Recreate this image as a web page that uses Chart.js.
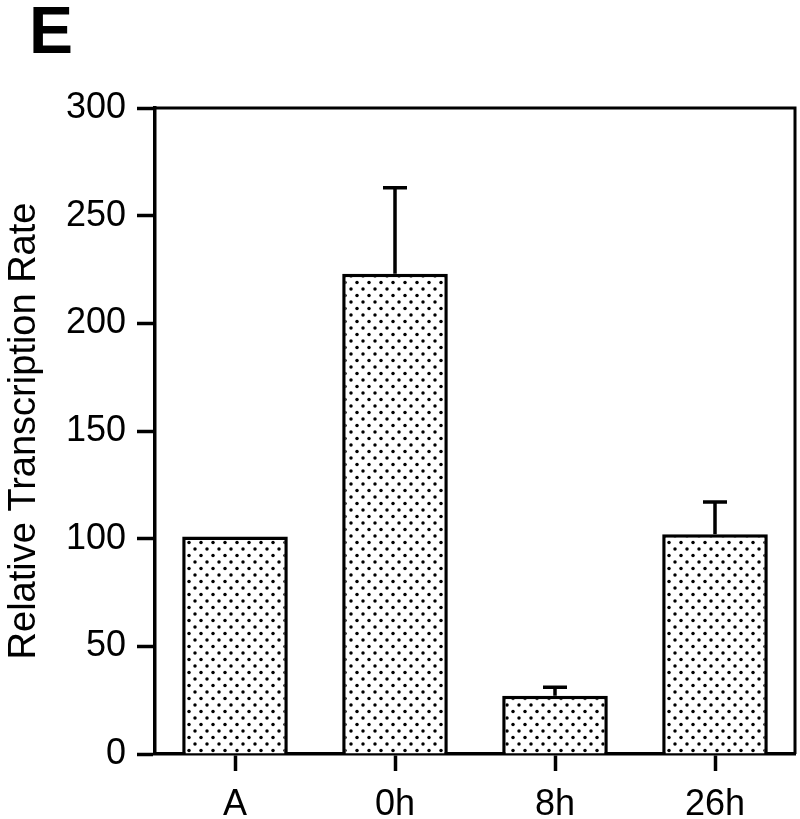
<!DOCTYPE html>
<html>
<head>
<meta charset="utf-8">
<script src="https://cdn.jsdelivr.net/npm/chart.js@4"></script>
<style>
  html, body { margin: 0; padding: 0; background: #fff; }
  #wrap { width: 800px; height: 819px; }
</style>
</head>
<body>
<div id="wrap"><canvas id="chart" width="800" height="819"></canvas></div>
<script>
const labels = ['A', '0h', '8h', '26h'];
const rates = [101, 223, 27, 102];
const errTops = [101, 263, 31, 117];
const yTicks = [0, 50, 100, 150, 200, 250, 300];

// dotted fill like the printed figure
function dotPattern() {
    const c = document.createElement('canvas');
    c.width = 12;
    c.height = 13;
    const g = c.getContext('2d');
    g.fillStyle = '#fff';
    g.fillRect(0, 0, 12, 13);
    g.fillStyle = '#000';
    [[3, 3], [9, 9.5]].forEach(p => {
        g.beginPath();
        g.arc(p[0], p[1], 1.75, 0, Math.PI * 2);
        g.fill();
    });
    return g.createPattern(c, 'repeat');
}

const frameAndErrors = {
    id: 'frameAndErrors',
    beforeDatasetsDraw(chart) {
        const { ctx, chartArea: a } = chart;
        ctx.save();
        ctx.strokeStyle = '#000';
        ctx.lineWidth = 3;
        ctx.beginPath();
        ctx.moveTo(a.left, a.top);
        ctx.lineTo(a.right, a.top);
        ctx.lineTo(a.right, a.bottom);
        ctx.stroke();
        ctx.restore();
    },
    afterDatasetsDraw(chart) {
        const { ctx, scales } = chart;
        const x = scales.x, y = scales.y;
        ctx.save();
        ctx.strokeStyle = '#000';
        ctx.lineWidth = 3.5;
        errTops.forEach((top, i) => {
            if (top <= rates[i]) return;
            const cx = x.getPixelForValue(i);
            const y0 = y.getPixelForValue(rates[i]);
            const y1 = y.getPixelForValue(top);
            ctx.beginPath();
            ctx.moveTo(cx, y0);
            ctx.lineTo(cx, y1);
            ctx.moveTo(cx - 12, y1);
            ctx.lineTo(cx + 12, y1);
            ctx.stroke();
        });
        ctx.restore();
    },
    afterDraw(chart) {
        const ctx = chart.ctx;
        ctx.save();
        ctx.fillStyle = '#000';
        ctx.font = 'bold 66px "Liberation Sans", Arial, sans-serif';
        ctx.textBaseline = 'alphabetic';
        ctx.fillText('E', 29, 53);
        ctx.restore();
    }
};

const ctx = document.getElementById('chart');

new Chart(ctx, {
    type: 'bar',
    data: {
        labels: labels,
        datasets: [{
            data: rates,
            backgroundColor: dotPattern(),
            borderColor: '#000',
            borderWidth: 3.5,
            borderSkipped: 'bottom',
            barPercentage: 0.66,
            categoryPercentage: 1
        }]
    },
    options: {
        responsive: false,
        animation: false,
        layout: { padding: { top: 108, right: 5, left: 0, bottom: 0 } },
        plugins: {
            legend: { display: false },
            tooltip: { enabled: false }
        },
        scales: {
            x: {
                grid: {
                    offset: false,
                    drawOnChartArea: false,
                    tickLength: 17,
                    tickWidth: 3.5,
                    tickColor: '#000'
                },
                border: { color: '#000', width: 3.5 },
                ticks: {
                    color: '#000',
                    padding: 12,
                    font: { family: '"Liberation Sans", Arial, sans-serif', size: 36 }
                },
                afterFit(scale) { scale.height = 65; }
            },
            y: {
                min: 0,
                max: 300,
                afterBuildTicks(scale) {
                    scale.ticks = yTicks.map(v => ({ value: v }));
                },
                grid: {
                    drawOnChartArea: false,
                    tickLength: 18,
                    tickWidth: 3.5,
                    tickColor: '#000'
                },
                border: { color: '#000', width: 3.5 },
                ticks: {
                    color: '#000',
                    padding: 11,
                    font: { family: '"Liberation Sans", Arial, sans-serif', size: 36 }
                },
                title: {
                    display: true,
                    text: 'Relative Transcription Rate',
                    color: '#000',
                    padding: { top: 2, bottom: 0 },
                    font: { family: '"Liberation Sans", Arial, sans-serif', size: 38 }
                },
                afterFit(scale) { scale.width = 155; }
            }
        }
    },
    plugins: [frameAndErrors]
});
</script>
</body>
</html>
